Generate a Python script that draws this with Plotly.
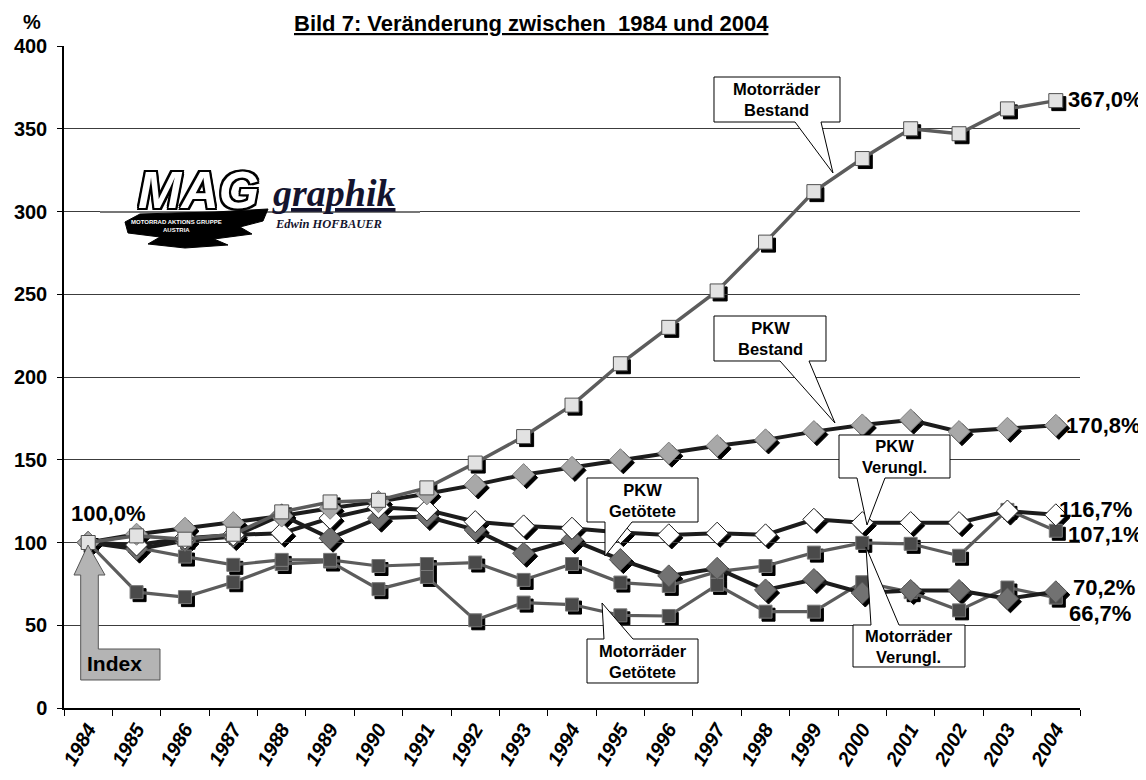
import plotly.graph_objects as go

# ---------------- data ----------------
years = ["1984", "1985", "1986", "1987", "1988", "1989", "1990", "1991", "1992", "1993", "1994",
         "1995", "1996", "1997", "1998", "1999", "2000", "2001", "2002", "2003", "2004"]

motorraeder_getoetete = [100, 70, 67, 76, 87, 88.5, 71.8, 79.2, 53, 63.7, 62.5,
                         56, 55.6, 74.4, 58.2, 58.2, 76, 70, 59, 72.8, 66.7]
motorraeder_verungl = [100, 97, 91.5, 86.5, 89.5, 89.5, 85.8, 87, 87.9, 77.4, 87,
                       75.8, 73.8, 82.4, 85.8, 93.9, 99.8, 99.2, 92, 119.7, 107.1]
pkw_getoetete = [100, 96, 101, 103.6, 116.7, 102.6, 114.7, 115.7, 107.6, 93.5, 101.6,
                 89.7, 79.8, 84.4, 71.3, 77.6, 69.5, 71, 71, 66, 70.2]
pkw_verungl = [100, 98.5, 102.6, 104.6, 105.6, 114.7, 121.3, 119.7, 112.6, 110, 108.6,
               106, 104.6, 105.6, 104.6, 114, 112, 112, 112, 119, 116.7]
pkw_bestand = [100, 105, 108.6, 112, 116, 120.7, 124.7, 129.4, 134.8, 141, 145.4,
               150, 154, 158.5, 162, 167, 171, 174, 167, 169, 170.8]
motorraeder_bestand = [100, 104, 102, 105, 118.5, 124.5, 125.5, 133, 148, 164, 183,
                       208, 230, 252, 281.5, 312, 332, 350, 347, 362, 367]

end_labels = ["66,7%", "107,1%", "70,2%", "116,7%", "170,8%", "367,0%"]
y_ticks = [0, 50, 100, 150, 200, 250, 300, 350, 400]

FONT = "Liberation Sans, Arial, sans-serif"
SERIF = "Liberation Serif, Times New Roman, serif"

series = [
    dict(name="Motorräder Getötete", y=motorraeder_getoetete, lc="#5c5c5c", lw=3.2,
         sym="square", size=13, fill="#4a4a4a", ol="#7a7a7a"),
    dict(name="Motorräder Verungl.", y=motorraeder_verungl, lc="#5c5c5c", lw=3.2,
         sym="square", size=13, fill="#4a4a4a", ol="#7a7a7a"),
    dict(name="PKW Getötete", y=pkw_getoetete, lc="#1c1c1c", lw=4,
         sym="diamond", size=17, fill="#727272", ol="#555555"),
    dict(name="PKW Verungl.", y=pkw_verungl, lc="#1c1c1c", lw=4,
         sym="diamond", size=17, fill="#ffffff", ol="#222222"),
    dict(name="PKW Bestand", y=pkw_bestand, lc="#1c1c1c", lw=4,
         sym="diamond", size=17, fill="#a8a8a8", ol="#808080"),
    dict(name="Motorräder Bestand", y=motorraeder_bestand, lc="#5c5c5c", lw=3.5,
         sym="square", size=14, fill="#e2e2e2", ol="#505050"),
]

# ---------------- geometry helpers (window pixel -> paper) ----------------
OFF = 8                      # page body margin of the browser
W, H = 1146 - OFF, 780 - OFF
L, R, T, B = 64, 1083, 46, 711   # plot box in window pixels
SH = 3  # shadow offset in px


def px(x):
    return (x - L) / (R - L)


def py(y):
    return (B - y) / (B - T)


def path(points):
    return "M " + " L ".join(f"{px(a):.5f},{py(b):.5f}" for a, b in points) + " Z"


fig = go.Figure()

# shadow markers (lower subplot layer)
for s in series:
    fig.add_trace(go.Scatter(
        x=years, y=s["y"], mode="markers", xaxis="x", yaxis="y",
        marker=dict(symbol=s["sym"], size=s["size"], color="#000000",
                    line=dict(width=1, color="#000000")),
        hoverinfo="skip", showlegend=False))

# main series
for s in series:
    fig.add_trace(go.Scatter(
        x=years, y=s["y"], mode="lines+markers", name=s["name"], xaxis="x2", yaxis="y2",
        line=dict(color=s["lc"], width=s["lw"]),
        marker=dict(symbol=s["sym"], size=s["size"], color=s["fill"],
                    line=dict(width=1, color=s["ol"])),
        showlegend=False))

PW = R - L
PH = B - T

fig.update_layout(
    width=W, height=H,
    margin=dict(l=L - OFF, r=W - (R - OFF), t=T - OFF, b=H - (B - OFF), pad=0,
                autoexpand=False),
    paper_bgcolor="white",
    plot_bgcolor="rgba(0,0,0,0)",
    showlegend=False,
    font=dict(family=FONT, color="black"),
    xaxis=dict(domain=[SH / PW, 1], anchor="y", type="category",
               categoryorder="array", categoryarray=years, automargin=False,
               range=[-0.5, len(years) - 0.5], visible=False, fixedrange=True),
    yaxis=dict(domain=[0, (PH - SH) / PH], anchor="x", range=[0, 400],
               automargin=False, visible=False, fixedrange=True),
    xaxis2=dict(domain=[0, (PW - SH) / PW], anchor="y2", type="category",
                categoryorder="array", categoryarray=years, automargin=False,
                range=[-0.5, len(years) - 0.5],
                showgrid=False, zeroline=False,
                showline=True, linecolor="#000000", linewidth=1.5,
                ticks="outside", tickson="boundaries", ticklen=6,
                tickcolor="#000000", tickwidth=1,
                tickangle=-60,
                tickfont=dict(family=FONT, size=20, weight="bold", style="italic",
                              color="black")),
    yaxis2=dict(domain=[SH / PH, 1], anchor="x2", range=[0, 400], automargin=False,
                tickvals=y_ticks, ticktext=[str(v) for v in y_ticks],
                showgrid=True, gridcolor="#3c3c3c", gridwidth=1,
                zeroline=False, showline=True, linecolor="#000000", linewidth=1.5,
                ticks="outside", ticklen=5, tickcolor="#000000",
                ticklabelstandoff=6,
                tickfont=dict(family=FONT, size=20, weight="bold", color="black")),
)

annotations = []
shapes = []

# title and unit
annotations.append(dict(xref="paper", yref="paper", x=px(531), y=py(OFF + 1),
                        text="<b><u>Bild 7: Veränderung zwischen  1984 und 2004</u></b>",
                        showarrow=False, xanchor="center", yanchor="top",
                        font=dict(family=FONT, size=22, color="black")))
annotations.append(dict(xref="paper", yref="paper", x=px(32), y=py(OFF + 1),
                        text="<b>%</b>", showarrow=False, xanchor="center", yanchor="top",
                        font=dict(family=FONT, size=20, color="black")))

# end labels
end_pos = [(1067, 613), (1066, 534), (1071, 587), (1057, 510), (1064, 425), (1066, 100)]
for lab, (ex, ey) in zip(end_labels, end_pos):
    annotations.append(dict(xref="paper", yref="paper", x=px(ex), y=py(ey),
                            text=f"<b>{lab}</b>", showarrow=False,
                            xanchor="left", yanchor="middle",
                            font=dict(family=FONT, size=22, color="black")))

annotations.append(dict(xref="paper", yref="paper", x=px(108), y=py(513),
                        text="<b>100,0%</b>", showarrow=False,
                        xanchor="center", yanchor="middle",
                        font=dict(family=FONT, size=22, color="black")))

# Index arrow
shapes.append(dict(type="path", xref="paper", yref="paper", layer="above",
                   path=path([(80.7, 680), (160, 680), (160, 649), (98.3, 649), (98.3, 575),
                              (105, 575), (88, 545), (74, 575), (80.7, 575)]),
                   fillcolor="#b4b4b4", line=dict(color="#555555", width=1)))
annotations.append(dict(xref="paper", yref="paper", x=px(114), y=py(663),
                        text="<b>Index</b>", showarrow=False,
                        xanchor="center", yanchor="middle",
                        font=dict(family=FONT, size=21, color="black")))

# callouts: box (x0,y0,x1,y1), pointer side, pointer base xs, tip
callouts = [
    ("Motorräder<br>Bestand", (714, 77, 840, 122), "bottom", (795, 821), (833, 173)),
    ("PKW<br>Bestand", (714, 316, 826, 361), "bottom", (780, 809), (835, 423)),
    ("PKW<br>Verungl.", (839, 435, 950, 478), "bottom", (857, 885), (867, 525)),
    ("PKW<br>Getötete", (587, 478, 698, 522), "bottom", (605, 632), (605, 556)),
    ("Motorräder<br>Getötete", (587, 639, 698, 683), "top", (604, 633), (602, 603)),
    ("Motorräder<br>Verungl.", (853, 625, 965, 667), "top", (871, 899), (866, 547)),
]
for text, (x0, y0, x1, y1), side, (a, b), (tx, ty) in callouts:
    if side == "bottom":
        pts = [(x0, y0), (x1, y0), (x1, y1), (b, y1), (tx, ty), (a, y1), (x0, y1)]
    else:
        pts = [(x0, y1), (x1, y1), (x1, y0), (b, y0), (tx, ty), (a, y0), (x0, y0)]
    shapes.append(dict(type="path", xref="paper", yref="paper", layer="above",
                       path=path(pts), fillcolor="white",
                       line=dict(color="#000000", width=1)))
    annotations.append(dict(xref="paper", yref="paper", x=px((x0 + x1) / 2),
                            y=py((y0 + y1) / 2), text=f"<b>{text}</b>",
                            showarrow=False, xanchor="center", yanchor="middle",
                            font=dict(family=FONT, size=16.5, color="black")))

# logo
shapes.append(dict(type="line", xref="paper", yref="paper", layer="above",
                   x0=px(100), x1=px(420), y0=py(212), y1=py(212),
                   line=dict(color="#777777", width=2)))
shapes.append(dict(type="path", xref="paper", yref="paper", layer="above",
                   path=path([(125, 222), (140, 214), (175, 213), (215, 212), (268, 209),
                              (263, 221), (240, 227), (252, 234), (214, 239), (228, 245),
                              (185, 248), (148, 244), (160, 237), (128, 233)]),
                   fillcolor="#000000", line=dict(color="#000000", width=1)))
annotations.append(dict(xref="paper", yref="paper", x=px(198), y=py(190),
                        text="<b><i>MAG</i></b>", showarrow=False,
                        xanchor="center", yanchor="middle",
                        font=dict(family=FONT, size=52, color="white",
                                  shadow="-2px -2px 0 #000, 2px -2px 0 #000, -2px 2px 0 #000, 2px 2px 0 #000, 0 2px 0 #000, 0 -2px 0 #000, 2px 0 0 #000, -2px 0 0 #000")))
annotations.append(dict(xref="paper", yref="paper", x=px(176), y=py(222),
                        text="<b>MOTORRAD AKTIONS GRUPPE</b>", showarrow=False,
                        xanchor="center", yanchor="middle",
                        font=dict(family=FONT, size=6, color="white")))
annotations.append(dict(xref="paper", yref="paper", x=px(176), y=py(230),
                        text="<b>AUSTRIA</b>", showarrow=False,
                        xanchor="center", yanchor="middle",
                        font=dict(family=FONT, size=6, color="white")))
annotations.append(dict(xref="paper", yref="paper", x=px(270), y=py(193),
                        text="<b><i><u>graphik</u></i></b>", showarrow=False,
                        xanchor="left", yanchor="middle",
                        font=dict(family=SERIF, size=38, color="#14142e")))
annotations.append(dict(xref="paper", yref="paper", x=px(273), y=py(224),
                        text="<b><i>Edwin HOFBAUER</i></b>", showarrow=False,
                        xanchor="left", yanchor="middle",
                        font=dict(family=SERIF, size=12.5, color="#14142e")))

fig.update_layout(annotations=annotations, shapes=shapes)

fig.write_html("out.html")
